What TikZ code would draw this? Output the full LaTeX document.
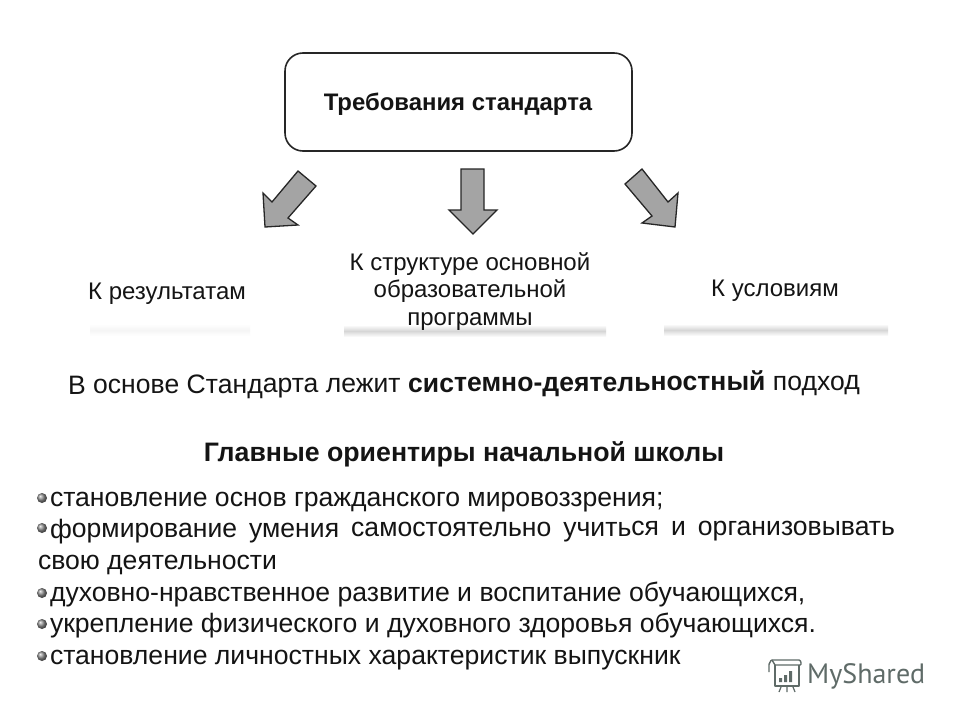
\documentclass[tikz,border=0pt]{standalone}
\usepackage{fontspec}
\setmainfont{Liberation Sans}
\newfontfamily\logofont{PT Sans}
\usetikzlibrary{shapes.geometric}
\definecolor{txt}{HTML}{141414}
\definecolor{arrowfill}{HTML}{A4A4A4}
\definecolor{logoc}{HTML}{5F6B68}
\tikzset{
  x=1pt,y=-1pt,
  line/.style={anchor=base west,inner sep=0pt,outer sep=0pt,text=txt,font=\fontsize{26.6}{30}\selectfont},
  lab/.style={anchor=base,inner sep=0pt,outer sep=0pt,text=txt,font=\fontsize{24}{28}\selectfont},
  fat/.style={draw=black!85,line width=1.3pt,fill=arrowfill,line join=miter},
  bullet/.style={circle,minimum size=10pt,inner sep=0pt,shade,ball color=black!45},
  smear/.style={top color=white,bottom color=white,middle color=black!16,draw=none}
}
\begin{document}
\begin{tikzpicture}
\useasboundingbox (0,0) rectangle (960,720);
\fill[white] (0,0) rectangle (960,720);
% faint scanned smears
\fill[smear] (344,325) rectangle (606,337);
\fill[smear] (664,324) rectangle (888,336);
\fill[top color=white,bottom color=white,middle color=black!4] (90,324) rectangle (250,336);
% main box
\node[draw=black!85,line width=1.6pt,rounded corners=18pt,minimum width=347pt,minimum height=98pt,inner sep=0pt] (box) at (458.5,102) {};
\node[anchor=base,inner sep=0pt,text=txt,font=\fontsize{23.9}{28}\selectfont\bfseries] (title) at (458,110) {Требования стандарта};
% arrows
\draw[fat] (298,171)--(316,186)--(288,218)--(298,225)--(265,227)--(263,193)--(272,202)--cycle;
\draw[fat] (461,169)--(484,169)--(484,210)--(497,210)--(473,234)--(449,210)--(461,210)--cycle;
\draw[fat] (642,169)--(625,184)--(652,216)--(642,223)--(675,227)--(678,193)--(668,202)--cycle;
% labels
\node[lab] (l1) at (167,299) {К результатам};
\node[lab] (l2a) at (470,270) {К структуре основной};
\node[lab] (l2b) at (470,297) {образовательной};
\node[lab] (l2c) at (470,325) {программы};
\node[lab] (l3) at (775,296) {К условиям};
% basis line
\node[line,rotate=0.3] (basis) at (68,394) {В основе Стандарта лежит \textbf{системно-деятельностный} подход};
\node[anchor=base,inner sep=0pt,text=txt,font=\fontsize{26.7}{30}\selectfont\bfseries] (head) at (464,461) {Главные ориентиры начальной школы};
% bullets
\node[bullet] (b1) at (42,498) {};
\node[bullet] (b2) at (42,528) {};
\node[bullet] (b3) at (42,593) {};
\node[bullet] (b4) at (42,624) {};
\node[bullet] (b5) at (42,656) {};
\node[line] (t1) at (50,506) {становление основ гражданского мировоззрения;};
\node[line,rotate=0.2] (t2) at (50,538) {\makebox[845pt][s]{формирование умения самостоятельно учиться и организовывать}};
\node[line] (t2b) at (38,569) {свою деятельности};
\node[line] (t3) at (50,601) {духовно-нравственное развитие и воспитание обучающихся,};
\node[line] (t4) at (50,632) {укрепление физического и духовного здоровья обучающихся.};
\node[line] (t5) at (50,664) {становление личностных характеристик выпускник};
% logo
\node[anchor=base west,inner sep=0pt,text=logoc,font=\fontsize{28}{30}\selectfont\logofont] (logo) at (807,683) {MyShared};
\draw[logoc,line width=1.4pt,line join=round] (775,665)--(775,686)--(799,686)--(799,665);
\draw[logoc,line width=1.4pt,line join=round] (769,672)--(769,664) to[out=-90,in=180] (772,660)--(799,660);
\draw[logoc,line width=1.4pt,line join=round] (772,660)--(775,665)--(800,665) to[out=0,in=0] (799,660);
\fill[logoc] (779,678) rectangle (782,682) (784,675) rectangle (787,682) (789,671) rectangle (792,682);
\draw[logoc,line width=1.2pt] (781,687)--(779,692) (787,687)--(787,692) (793,687)--(795,692);
\end{tikzpicture}
\end{document}
